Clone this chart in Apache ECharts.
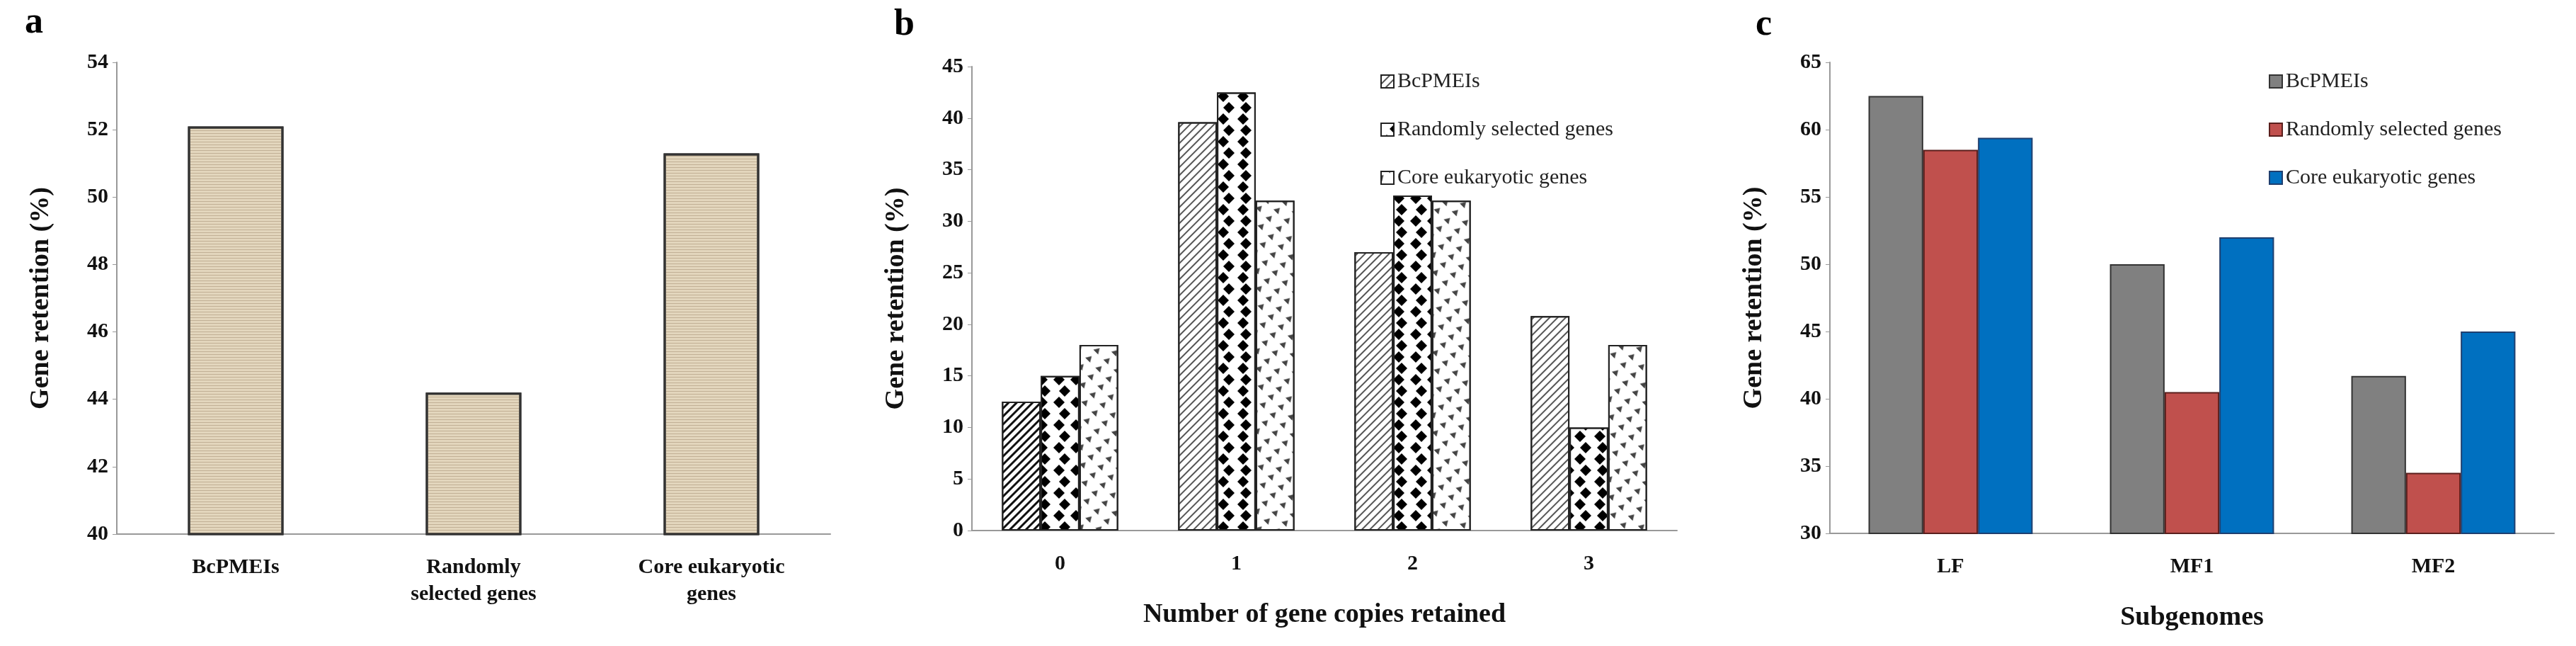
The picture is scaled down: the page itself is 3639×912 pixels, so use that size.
<!DOCTYPE html>
<html><head><meta charset="utf-8">
<script src="https://cdn.jsdelivr.net/npm/echarts@6/dist/echarts.min.js"></script>
<style>html,body{margin:0;background:#fff}#c{width:3639px;height:912px}</style></head>
<body><div id="c"></div>
<script>
const aCategories = ['BcPMEIs', 'Randomly\nselected genes', 'Core eukaryotic\ngenes'];
const aValues = [52.1, 44.2, 51.3];
const bCategories = ['0', '1', '2', '3'];
const bBcPMEIs = [12.5, 39.6, 27, 20.8];
const bRandom = [15, 42.5, 32.5, 10];
const bCore = [18, 32, 32, 18];
const cCategories = ['LF', 'MF1', 'MF2'];
const cBcPMEIs = [62.5, 50, 41.7];
const cRandom = [58.5, 40.5, 34.5];
const cCore = [59.4, 52, 45];
const seriesNames = ['BcPMEIs', 'Randomly selected genes', 'Core eukaryotic genes'];

const F = 'Liberation Serif';
const chart = echarts.init(document.getElementById('c'), null, {renderer: 'canvas'});
const grids = [
  {left: 165, width: 1008, top: 88, bottom: 158},
  {left: 1373, width: 996, top: 94, bottom: 163},
  {left: 2585, width: 1023, top: 88, bottom: 159}
];
function xAx(i, data, name) {
  return {type: 'category', gridIndex: i, data, name, nameLocation: 'middle', nameGap: 100,
    nameTextStyle: {fontFamily: F, fontWeight: 'bold', fontSize: 38, color: '#111'},
    axisLine: {lineStyle: {color: '#999', width: 2}}, axisTick: {length: 8, lineStyle: {color: '#999'}},
    axisLabel: {fontFamily: F, fontWeight: 'bold', fontSize: 30, color: '#111', margin: 28, lineHeight: 38}};
}
function yAx(i, min, max, interval) {
  return {type: 'value', gridIndex: i, min, max, interval, name: 'Gene retention (%)', nameLocation: 'middle', nameGap: 88,
    nameTextStyle: {fontFamily: F, fontWeight: 'bold', fontSize: 38, color: '#111'},
    splitLine: {show: false}, axisLine: {show: true, lineStyle: {color: '#999', width: 2}},
    axisTick: {show: true, length: 6, lineStyle: {color: '#999'}},
    axisLabel: {fontFamily: F, fontWeight: 'bold', fontSize: 30, color: '#111', margin: 12}};
}
const stripe = {symbol: 'rect', symbolSize: 1, dashArrayX: [1, 0], dashArrayY: [2, 6], rotation: -Math.PI / 4, color: '#555'};
const diamond = {symbol: 'diamond', symbolSize: 1, dashArrayX: [[16, 8], [0, 12, 16, 0]], dashArrayY: [16, 0], color: '#000'};
const wave = {symbol: 'triangle', symbolSize: 0.8, dashArrayX: [[12, 8]], dashArrayY: [10, 6], rotation: Math.PI / 4, color: '#444'};
const bstyle = (decal) => ({color: '#fff', borderColor: '#222', borderWidth: 2, decal});
chart.setOption({
  animation: false,
  grid: grids,
  title: [
    {text: 'a', left: 30, top: 2, textStyle: {fontFamily: F, fontWeight: 'bold', fontSize: 52, color: '#000'}},
    {text: 'b', left: 1258, top: 5, textStyle: {fontFamily: F, fontWeight: 'bold', fontSize: 52, color: '#000'}},
    {text: 'c', left: 2475, top: 5, textStyle: {fontFamily: F, fontWeight: 'bold', fontSize: 52, color: '#000'}}
  ],
  legend: [
    {orient: 'vertical', left: 1945, top: 95, itemGap: 38, itemWidth: 18, itemHeight: 18,
      data: seriesNames, textStyle: {fontFamily: F, fontSize: 30, color: '#222'},
      selectedMode: false, icon: 'rect'},
    {orient: 'vertical', left: 3200, top: 95, itemGap: 38, itemWidth: 18, itemHeight: 18,
      data: ['BcPMEIs ', 'Randomly selected genes ', 'Core eukaryotic genes '], textStyle: {fontFamily: F, fontSize: 30, color: '#222'},
      selectedMode: false, icon: 'rect', formatter: n => n.trim()}
  ],
  xAxis: [xAx(0, aCategories, ''), xAx(1, bCategories, 'Number of gene copies retained'), xAx(2, cCategories, 'Subgenomes')],
  yAxis: [yAx(0, 40, 54, 2), yAx(1, 0, 45, 5), yAx(2, 30, 65, 5)],
  series: [
    {type: 'bar', name: 'a', xAxisIndex: 0, yAxisIndex: 0, data: aValues, barWidth: 135,
      itemStyle: {color: '#e3d6bd', borderColor: '#333', borderWidth: 3,
        decal: {symbol: 'rect', symbolSize: 1, dashArrayX: [1, 0], dashArrayY: [1, 3], color: 'rgba(150,130,100,0.45)'}}},
    {type: 'bar', name: seriesNames[0], xAxisIndex: 1, yAxisIndex: 1, barGap: '0%', barCategoryGap: '34%',
      data: bBcPMEIs.map((v, i) => i === 0 ? {value: v, itemStyle: {decal: Object.assign({}, stripe, {color: '#111', dashArrayY: [3, 5]})}} : v),
      itemStyle: bstyle(stripe)},
    {type: 'bar', name: seriesNames[1], xAxisIndex: 1, yAxisIndex: 1, barGap: '0%', barCategoryGap: '34%', data: bRandom, itemStyle: bstyle(diamond)},
    {type: 'bar', name: seriesNames[2], xAxisIndex: 1, yAxisIndex: 1, barGap: '0%', barCategoryGap: '34%', data: bCore, itemStyle: bstyle(wave)},
    {type: 'bar', name: 'BcPMEIs ', xAxisIndex: 2, yAxisIndex: 2, barGap: '0%', barCategoryGap: '32%', data: cBcPMEIs,
      itemStyle: {color: '#808080', borderColor: '#333', borderWidth: 2}},
    {type: 'bar', name: 'Randomly selected genes ', xAxisIndex: 2, yAxisIndex: 2, barGap: '0%', barCategoryGap: '32%', data: cRandom,
      itemStyle: {color: '#c0504d', borderColor: '#5a1f1d', borderWidth: 2}},
    {type: 'bar', name: 'Core eukaryotic genes ', xAxisIndex: 2, yAxisIndex: 2, barGap: '0%', barCategoryGap: '32%', data: cCore,
      itemStyle: {color: '#0070c0', borderColor: '#1f3f6f', borderWidth: 2}}
  ]
});
</script></body></html>
